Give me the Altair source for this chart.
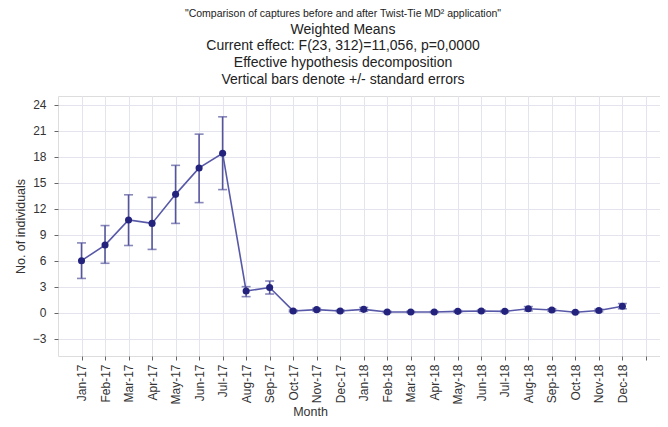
import altair as alt
import pandas as pd

months = ["Jan-17", "Feb-17", "Mar-17", "Apr-17", "May-17", "Jun-17", "Jul-17", "Aug-17",
          "Sep-17", "Oct-17", "Nov-17", "Dec-17", "Jan-18", "Feb-18", "Mar-18", "Apr-18",
          "May-18", "Jun-18", "Jul-18", "Aug-18", "Sep-18", "Oct-18", "Nov-18", "Dec-18"]
means = [6.0, 7.8, 10.7, 10.3, 13.65, 16.7, 18.4, 2.5, 2.9, 0.2, 0.35, 0.2,
         0.38, 0.08, 0.08, 0.08, 0.15, 0.2, 0.15, 0.45, 0.3, 0.05, 0.25, 0.75]
upper = [8.05, 10.05, 13.6, 13.3, 17.0, 20.6, 22.6, 3.0, 3.65, 0.3, 0.5, 0.3,
         0.6, 0.15, 0.15, 0.15, 0.25, 0.3, 0.25, 0.7, 0.45, 0.12, 0.4, 1.05]
lower = [3.95, 5.7, 7.75, 7.3, 10.3, 12.7, 14.2, 1.85, 2.15, 0.1, 0.2, 0.1,
         0.16, 0.01, 0.01, 0.01, 0.05, 0.1, 0.05, 0.2, 0.15, -0.02, 0.1, 0.45]
y_ticks = [-3, 0, 3, 6, 9, 12, 15, 18, 21, 24]

df = pd.DataFrame({
    "idx": list(range(len(months))),
    "month": months,
    "mean": means,
    "upper": upper,
    "lower": lower,
})

label_expr = "[" + ",".join("'" + m + "'" for m in months) + "][datum.value] || ''"

FONT = "Liberation Sans"
navy = "#23237e"
line_col = "#5858a8"
err_col = "#55559c"

x_axis = alt.Axis(
    values=list(range(25)),
    labelExpr=label_expr,
    labelOverlap=False,
    labelAngle=-90,
    labelAlign="right",
    labelBaseline="middle",
    labelFontSize=12,
    labelFont=FONT,
    labelColor="#333333",
    tickSize=4,
    tickColor="#666666",
    labelPadding=4,
    title="Month",
    titleFont=FONT,
    titleFontSize=12.5,
    titleFontWeight="normal",
    titleColor="#333333",
    titleX=252,
    titleY=55,
    titleAlign="center",
    titleBaseline="middle",
    gridColor="#e4e4ee",
    gridWidth=1,
    domain=False,
)

y_axis = alt.Axis(
    values=y_ticks,
    labelOverlap=False,
    labelFontSize=12,
    labelFont=FONT,
    labelColor="#333333",
    tickSize=4,
    tickColor="#666666",
    labelPadding=8,
    title="No. of individuals",
    titleFont=FONT,
    titleFontSize=12.5,
    titleFontWeight="normal",
    titleColor="#333333",
    titleX=-38,
    titleY=130,
    titleAngle=-90,
    titleAlign="center",
    titleBaseline="middle",
    gridColor="#e4e4ee",
    gridWidth=1,
    domain=False,
)

x_scale = alt.Scale(domain=[-1, 24.6], nice=False, zero=False)
y_scale = alt.Scale(domain=[-5, 25], nice=False, zero=False)

base = alt.Chart(df)

line = base.mark_line(color=line_col, strokeWidth=1.6).encode(
    x=alt.X("idx:Q", scale=x_scale, axis=x_axis),
    y=alt.Y("mean:Q", scale=y_scale, axis=y_axis),
)

rules = base.mark_rule(color=err_col, strokeWidth=1.6).encode(
    x=alt.X("idx:Q", scale=x_scale, axis=x_axis),
    y=alt.Y("lower:Q", scale=y_scale, axis=y_axis),
    y2="upper:Q",
)
cap_top = base.mark_tick(color=err_col, thickness=1.6, size=9, orient="horizontal").encode(
    x=alt.X("idx:Q", scale=x_scale, axis=x_axis),
    y=alt.Y("upper:Q", scale=y_scale, axis=y_axis),
)
cap_bot = base.mark_tick(color=err_col, thickness=1.6, size=9, orient="horizontal").encode(
    x=alt.X("idx:Q", scale=x_scale, axis=x_axis),
    y=alt.Y("lower:Q", scale=y_scale, axis=y_axis),
)
points = base.mark_point(filled=True, shape="circle", size=50, color=navy, opacity=1).encode(
    x=alt.X("idx:Q", scale=x_scale, axis=x_axis),
    y=alt.Y("mean:Q", scale=y_scale, axis=y_axis),
)

chart = (
    alt.layer(line, rules, cap_top, cap_bot, points)
    .properties(
        width=602,
        height=260,
        autosize=alt.AutoSizeParams(type="none"),
        padding={"left": 50, "top": 88, "right": 0, "bottom": 63},
        title=alt.TitleParams(
            text="\"Comparison of captures before and after Twist-Tie MD² application\"",
            subtitle=[
                "Weighted Means",
                "Current effect: F(23, 312)=11,056, p=0,0000",
                "Effective hypothesis decomposition",
                "Vertical bars denote +/- standard errors",
            ],
            font=FONT,
            fontSize=10.5,
            fontWeight="normal",
            color="#222222",
            subtitleFont=FONT,
            subtitleFontSize=14,
            subtitleColor="#222222",
            subtitleLineHeight=16.8,
            subtitlePadding=3,
            anchor="middle",
            frame="group",
            dx=-16,
            offset=9,
        ),
    )
    .configure_axis(labelOverlap=False)
    .configure_view(stroke="#444444", strokeWidth=1.2)
    .configure(background="white")
)

chart.save("out.html", embed_options={"renderer": "svg", "actions": False})
